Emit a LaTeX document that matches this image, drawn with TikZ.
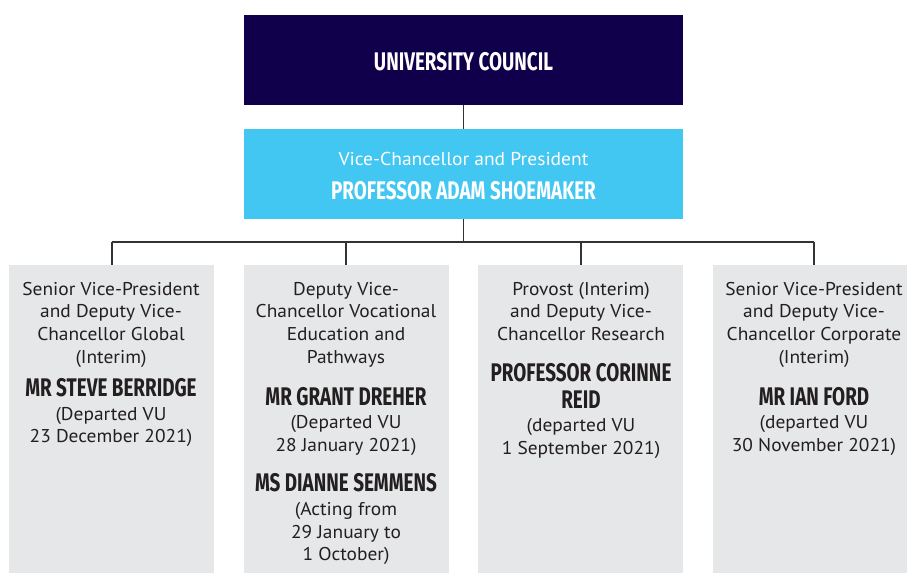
\documentclass[tikz,border=0pt]{standalone}
\usepackage{fontspec}
\setmainfont[FakeStretch=1.05]{PT Sans}
\newfontfamily\headfont[FakeStretch=0.74]{Fira Sans}
\definecolor{navy}{HTML}{10004B}
\definecolor{cyanbox}{HTML}{42C6F2}
\definecolor{graybox}{HTML}{E6E7E8}
\definecolor{txt}{HTML}{231F20}
\definecolor{linec}{HTML}{333333}
\tikzset{
  boxbase/.style={draw=none, inner sep=0, minimum height=90pt, minimum width=439pt},
  gbox/.style={draw=none, fill=graybox, inner sep=0, minimum height=308pt},
  body/.style={anchor=base, inner sep=0, text=txt, font=\fontsize{18.5}{18.5}\selectfont},
  nm/.style={anchor=base, inner sep=0, text=txt, font=\headfont\bfseries\fontsize{25.5}{25.5}\selectfont},
  wnm/.style={nm, text=white},
  wbody/.style={body, text=white, font=\fontsize{18.6}{18.6}\selectfont},
  conn/.style={draw=linec, line width=1.2pt}
}
\begin{document}
\begin{tikzpicture}[x=1pt,y=-1pt]
\useasboundingbox (0,0) rectangle (907,573);
% top boxes
\node[boxbase, fill=navy] (council) at (463.5,60) {};
\node[boxbase, fill=cyanbox] (vc) at (463.5,174) {};
\node[wnm] (councilt) at (463.5,70) {UNIVERSITY COUNCIL};
\node[wbody] (vct) at (463.5,165) {Vice-Chancellor and President};
\node[wnm] (vcn) at (463.5,199.3) {PROFESSOR ADAM SHOEMAKER};
% grey boxes
\node[gbox, minimum width=205pt] (box1) at (111,419) {};
\node[gbox, minimum width=205pt] (box2) at (346.5,419) {};
\node[gbox, minimum width=205pt] (box3) at (580.5,419) {};
\node[gbox, minimum width=194pt] (box4) at (810,419) {};
% connectors
\coordinate (bus) at (463.5,242);
\coordinate (d1) at (112,242);
\coordinate (d2) at (346,242);
\coordinate (d3) at (581,242);
\coordinate (d4) at (814,242);
\draw[conn] (council.south) -- (vc.north);
\draw[conn] (vc.south) -- (bus);
\draw[conn] (d1) -- (d4);
\draw[conn] (d1) -- (d1 |- box1.north);
\draw[conn] (d2) -- (d2 |- box2.north);
\draw[conn] (d3) -- (d3 |- box3.north);
\draw[conn] (d4) -- (d4 |- box4.north);
% box 1
\foreach \t [count=\i] in {{Senior Vice-President},{and Deputy Vice-},{Chancellor Global},{(Interim)}}
  \node[body] (b1t\i) at (111,{295+(\i-1)*22.7}) {\t};
\node[nm] (b1n) at (111,396.7) {MR STEVE BERRIDGE};
\foreach \t [count=\i] in {{(Departed VU},{23 December 2021)}}
  \node[body] (b1d\i) at (111,{420+(\i-1)*22.7}) {\t};
% box 2
\foreach \t [count=\i] in {{Deputy Vice-},{Chancellor Vocational},{Education and},{Pathways}}
  \node[body] (b2t\i) at (346,{295+(\i-1)*22.7}) {\t};
\node[nm] (b2n) at (346,405) {MR GRANT DREHER};
\foreach \t [count=\i] in {{(Departed VU},{28 January 2021)}}
  \node[body] (b2d\i) at (346,{428.4+(\i-1)*22.7}) {\t};
\node[nm] (b2m) at (346,491.7) {MS DIANNE SEMMENS};
\foreach \t [count=\i] in {{(Acting from},{29 January to},{1 October)}}
  \node[body] (b2e\i) at (346,{515.4+(\i-1)*22.7}) {\t};
% box 3
\foreach \t [count=\i] in {{Provost (Interim)},{and Deputy Vice-},{Chancellor Research}}
  \node[body] (b3t\i) at (581,{295+(\i-1)*22.7}) {\t};
\node[nm] (b3n) at (581,381.7) {PROFESSOR CORINNE};
\node[nm] (b3m) at (581,408.3) {REID};
\foreach \t [count=\i] in {{(departed VU},{1 September 2021)}}
  \node[body] (b3d\i) at (581,{431.7+(\i-1)*22.7}) {\t};
% box 4
\foreach \t [count=\i] in {{Senior Vice-President},{and Deputy Vice-},{Chancellor Corporate},{(Interim)}}
  \node[body] (b4t\i) at (814,{295+(\i-1)*22.7}) {\t};
\node[nm] (b4n) at (814,405) {MR IAN FORD};
\foreach \t [count=\i] in {{(departed VU},{30 November 2021)}}
  \node[body] (b4d\i) at (814,{428.4+(\i-1)*22.7}) {\t};
\end{tikzpicture}
\end{document}
